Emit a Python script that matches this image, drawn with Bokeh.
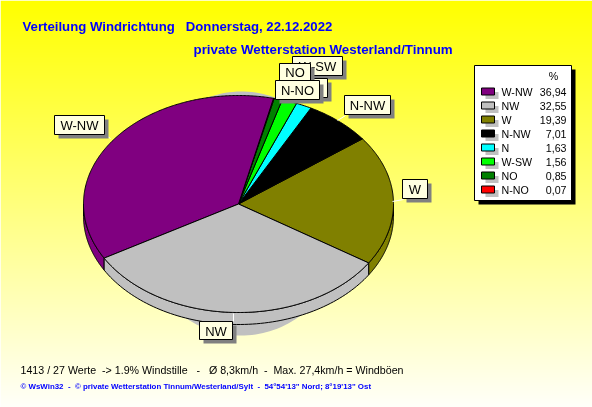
import numpy as np
from bokeh.plotting import figure
from bokeh.models import Range1d
from bokeh.core.properties import value
from bokeh.embed import file_html
from bokeh.resources import INLINE

# --- data ---
slice_names = ["W", "N-NW", "N", "W-SW", "NO", "N-NO", "W-NW", "NW"]
slice_values = [19.39, 7.01, 1.63, 1.56, 0.85, 0.07, 36.94, 32.55]
slice_colors = ["#808000", "#000000", "#00ffff", "#00ff00", "#008000", "#ff0000", "#800080", "#c0c0c0"]
legend_names = ["W-NW", "NW", "W", "N-NW", "N", "W-SW", "NO", "N-NO"]
legend_values = ["36,94", "32,55", "19,39", "7,01", "1,63", "1,56", "0,85", "0,07"]
legend_colors = ["#800080", "#c0c0c0", "#808000", "#000000", "#00ffff", "#00ff00", "#008000", "#ff0000"]
NB = "\u00a0"
title_1 = f"Verteilung Windrichtung{NB}{NB}{NB}Donnerstag, 22.12.2022"
title_2 = "private Wetterstation Westerland/Tinnum"
footer_1 = f"1413 / 27 Werte{NB}{NB}-> 1.9% Windstille{NB}{NB}{NB}-{NB}{NB}{NB}Ø 8,3km/h{NB}{NB}-{NB}{NB}Max. 27,4km/h = Windböen"
footer_2 = f"© WsWin32{NB}{NB}-{NB}{NB}© private Wetterstation Tinnum/Westerland/Sylt{NB}{NB}-{NB}{NB}54°54'13\" Nord; 8°19'13\" Ost"

# --- layout (page pixels) ---
W, H = 592, 407
CX, CY, RX, RY, DEPTH = 238, 203.5, 155, 108.5, 12
START_DEG = -32.9
CREAM = "#ffffe1"
SHADOW = "#808080"
FONT = value("Liberation Sans")

p = figure(width=W, height=H, output_backend="svg", toolbar_location=None,
           x_range=Range1d(0, W), y_range=Range1d(H, 0), min_border=0)
p.axis.visible = False
p.grid.visible = False
p.outline_line_color = None
p.styles = {"position": "fixed", "left": "0px", "top": "0px"}

# background gradient
t = np.linspace(0, 1, H)
img = np.zeros((H, 1), dtype=np.uint32)
view = img.view(np.uint8).reshape((H, 1, 4))
view[:, 0, 0] = 255
view[:, 0, 1] = 255
view[:, 0, 2] = (t * 250).astype(np.uint8)
view[:, 0, 3] = 255
p.image_rgba(image=[img], x=0, y=0, dw=W, dh=H)


def pt(deg):
    a = np.radians(deg)
    return CX + RX * np.cos(a), CY - RY * np.sin(a)


# pie shadow
a = np.linspace(0, 2 * np.pi, 180)
p.patch(241 + 108 * np.cos(a), 213 - 122 * np.sin(a), fill_color="#c0c0c0", line_color=None)

# slice angles
shares = np.array(slice_values) / sum(slice_values) * 360
starts = START_DEG + np.concatenate([[0], np.cumsum(shares)[:-1]])
ends = starts + shares

# side walls
for s, e, c in zip(starts, ends, slice_colors):
    for lo, hi in ((s, e), (s - 360, e - 360)):
        lo2, hi2 = max(lo, -180), min(hi, 0)
        if hi2 <= lo2:
            continue
        d = np.linspace(lo2, hi2, 80)
        x, y = pt(d)
        p.patch(np.r_[x, x[::-1]], np.r_[y, y[::-1] + DEPTH], fill_color=c,
                line_color="black", line_width=1)

# top faces
for s, e, c in zip(starts, ends, slice_colors):
    d = np.linspace(s, e, max(4, int(e - s) * 2))
    x, y = pt(d)
    p.patch(np.r_[CX, x], np.r_[CY, y], fill_color=c, line_color="black", line_width=1)

# labels: name, x0, y0, x1, y1 and leader line
boxes = [
    ("W-SW", 292, 56, 342, 75, None),
    ("N", 300, 78, 327, 97, None),
    ("NO", 279, 63, 310, 80, None),
    ("N-NO", 275, 80, 319, 99, None),
    ("N-NW", 344, 95, 390, 114, (337, 120, 345, 115)),
    ("W", 402, 179, 427, 198, (392, 201, 403, 199)),
    ("NW", 199, 321, 232, 339, (233, 313, 233, 321)),
    ("W-NW", 54, 115, 104, 134, (104, 134, 110, 138)),
]
for name, x0, y0, x1, y1, lead in boxes:
    if lead:
        p.line([lead[0], lead[2]], [lead[1], lead[3]], line_color="white", line_width=1)
    p.quad(left=x0 + 4, right=x1 + 4, top=y0 + 4, bottom=y1 + 4, fill_color=SHADOW, line_color=None)
    p.quad(left=x0, right=x1, top=y0, bottom=y1, fill_color=CREAM, line_color="black", line_width=1)
    p.text(x=[(x0 + x1) / 2], y=[(y0 + y1) / 2 + 0.5], text=[name], text_font=FONT, text_font_size="13px",
           text_align="center", text_baseline="middle", text_color="black")

# legend
p.quad(left=478, right=575, top=69, bottom=204, fill_color="black", line_color=None)
p.quad(left=474, right=571, top=65, bottom=200, fill_color="white", line_color="black", line_width=1)
p.text(x=[553], y=[75], text=["%"], text_font=FONT, text_font_size="10.67px",
       text_align="center", text_baseline="middle", text_color="black")
for i, (n, v, c) in enumerate(zip(legend_names, legend_values, legend_colors)):
    yc = 91 + i * 14
    p.quad(left=485, right=498, top=yc + 0.5, bottom=yc + 7.5, fill_color="#c0c0c0", line_color=None)
    p.quad(left=481, right=494, top=yc - 3.5, bottom=yc + 3.5, fill_color=c, line_color="black", line_width=1)
    p.text(x=[501], y=[yc], text=[n], text_font=FONT, text_font_size="10.67px",
           text_baseline="middle", text_color="black")
    p.text(x=[566], y=[yc], text=[v], text_font=FONT, text_font_size="10.67px", text_align="right",
           text_baseline="middle", text_color="black")

# titles and footers
p.text(x=[22], y=[26], text=[title_1], text_font=FONT, text_font_size="13.2px", text_font_style="bold",
       text_baseline="middle", text_color="#0000ff")
p.text(x=[193], y=[49], text=[title_2], text_font=FONT, text_font_size="13.33px", text_font_style="bold",
       text_baseline="middle", text_color="#0000ff")
p.text(x=[20], y=[369], text=[footer_1], text_font=FONT, text_font_size="10.67px",
       text_baseline="middle", text_color="black")
p.text(x=[20], y=[386], text=[footer_2], text_font=FONT, text_font_size="7.9px", text_font_style="bold",
       text_baseline="middle", text_color="#0000ff")

open("out.html", "w").write(file_html(p, INLINE))
